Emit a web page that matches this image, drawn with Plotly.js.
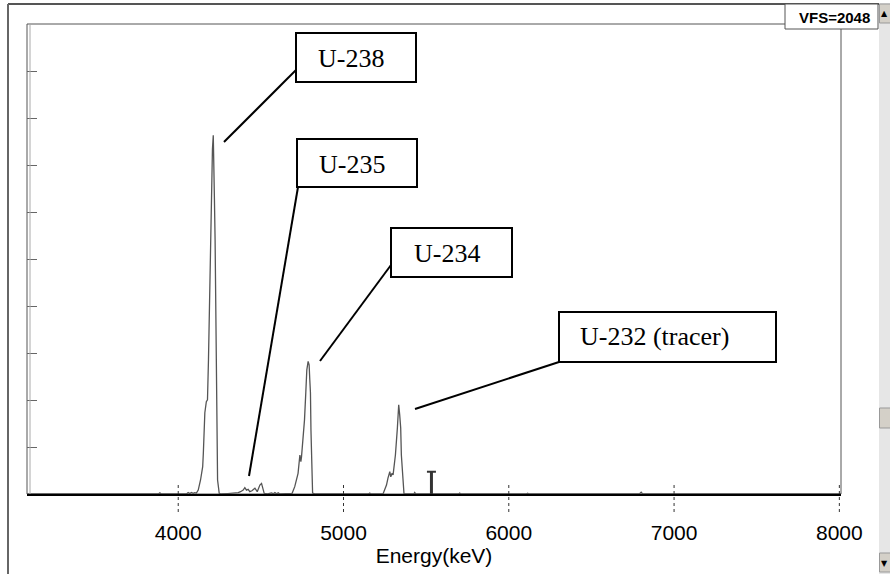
<!DOCTYPE html>
<html>
<head>
<meta charset="utf-8">
<script src="https://cdn.plot.ly/plotly-3.0.1.min.js"></script>
<style>
  html, body { margin: 0; padding: 0; background: #ffffff; }
  #chart { width: 890px; height: 574px; }
</style>
</head>
<body>
<div id="chart"></div>
<script>
// ---- Data ----
const energyKeV = [3085, 3880, 3889, 3897, 4050, 4060, 4070, 4080, 4090, 4100,
  4110, 4121, 4135, 4148, 4152, 4161, 4170, 4177, 4183, 4189,
  4193, 4202, 4207, 4212, 4216, 4219, 4223, 4226, 4230, 4233,
  4238, 4248, 4260, 4300, 4332, 4363, 4377, 4393, 4403, 4413,
  4423, 4433, 4446, 4464, 4478, 4494, 4504, 4514, 4520, 4540,
  4565, 4575, 4585, 4595, 4605, 4615, 4650, 4689, 4705, 4725,
  4736, 4742, 4746, 4756, 4764, 4772, 4778, 4786, 4792, 4796,
  4800, 4803, 4806, 4810, 4813, 4830, 5150, 5159, 5165, 5239,
  5245, 5260, 5269, 5280, 5286, 5294, 5300, 5306, 5314, 5326,
  5330, 5334, 5340, 5346, 5350, 5357, 5363, 5366, 5425, 5431,
  5437, 5695, 5703, 5710, 6106, 6114, 6122, 6790, 6801, 6810, 8010];
const counts = [0, 0, 5, 0, 0, 6, 2, 7, 3, 6,
  4, 17, 61, 119, 179, 354, 402, 410, 585, 847,
  1013, 1284, 1502, 1563, 1458, 1284, 1109, 847, 420, 150,
  61, 3, 0, 2, 3, 6, 10, 17, 28, 17,
  20, 10, 14, 25, 10, 39, 46, 25, 3, 0,
  5, 1, 6, 1, 5, 0, 0, 3, 32, 90,
  170, 141, 163, 236, 323, 445, 541, 578, 563, 498,
  441, 280, 192, 61, 4, 0, 0, 4, 0, 0,
  10, 39, 69, 97, 75, 90, 83, 120, 170, 288,
  345, 389, 345, 288, 170, 69, 10, 0, 0, 7,
  0, 0, 4, 0, 0, 3, 0, 0, 8, 0, 0];

const xTickVals = [4000, 5000, 6000, 7000, 8000];
const xTickText = ['4000', '5000', '6000', '7000', '8000'];
const yTickVals = [204.8, 409.6, 614.4, 819.2, 1024, 1228.8, 1433.6, 1638.4, 1843.2];
const verticalFullScale = 2048;
const xRange = [3085, 8010];

const peakLabels = ['U-238', 'U-235', 'U-234', 'U-232 (tracer)'];
const cursorEnergy = 5532;
const cursorHeight = 97;

// ---- Layout helpers (pixel -> paper) ----
const L = 27, R = 841, T = 24, B = 494;
const W = R - L, H = B - T;
const X = px => (px - L) / W;
const Y = py => (B - py) / H;

// label boxes: [left, top, right, bottom] px ; leader [x0,y0,x1,y1] px ; text anchor
const boxes = [
  {box: [296, 33, 416, 82],  lead: [296, 70, 224, 142],  tx: 316, ty: 58},
  {box: [297, 139, 417, 187], lead: [298, 187, 249, 476], tx: 317, ty: 164},
  {box: [391, 228, 512, 277], lead: [391, 265, 320, 361], tx: 412, ty: 253},
  {box: [559, 312, 776, 362], lead: [559, 362, 415, 409], tx: 578, ty: 336}
];

const shapes = [];
const annotations = [];

// outer window borders
shapes.push({type: 'line', xref: 'paper', yref: 'paper', x0: X(8), x1: X(879), y0: Y(4), y1: Y(4),
  line: {color: '#555', width: 2}});
shapes.push({type: 'line', xref: 'paper', yref: 'paper', x0: X(8), x1: X(8), y0: Y(4), y1: Y(575),
  line: {color: '#666', width: 2}});
// scrollbar
shapes.push({type: 'rect', xref: 'paper', yref: 'paper', x0: X(879), x1: X(891), y0: Y(575), y1: Y(3),
  fillcolor: '#e6e6e6', line: {width: 0}});
shapes.push({type: 'rect', xref: 'paper', yref: 'paper', x0: X(879.5), x1: X(890.5), y0: Y(23), y1: Y(4),
  fillcolor: '#d4d0c8', line: {color: '#999', width: 1}});
shapes.push({type: 'rect', xref: 'paper', yref: 'paper', x0: X(879.5), x1: X(890.5), y0: Y(428), y1: Y(408),
  fillcolor: '#d4d0c8', line: {color: '#999', width: 1}});
shapes.push({type: 'rect', xref: 'paper', yref: 'paper', x0: X(879.5), x1: X(890.5), y0: Y(572), y1: Y(553),
  fillcolor: '#d4d0c8', line: {color: '#999', width: 1}});

// plot frame
shapes.push({type: 'rect', xref: 'paper', yref: 'paper', x0: 0, x1: 1, y0: 0, y1: 1,
  line: {color: '#555', width: 1}, layer: 'below'});
shapes.push({type: 'line', xref: 'paper', yref: 'paper', x0: X(30), x1: X(30), y0: 0, y1: 1,
  line: {color: '#aaa', width: 1}});

// dashed x ticks crossing the baseline
xTickVals.forEach(v => {
  shapes.push({type: 'line', xref: 'x', yref: 'paper', x0: v, x1: v, y0: Y(512), y1: Y(482),
    line: {color: '#333', width: 1, dash: 'dot'}});
});

// cursor marker
shapes.push({type: 'line', xref: 'x', yref: 'y', x0: cursorEnergy, x1: cursorEnergy, y0: 0, y1: cursorHeight,
  line: {color: '#333', width: 3}});
shapes.push({type: 'line', xref: 'x', yref: 'y', xsizemode: 'pixel', xanchor: cursorEnergy,
  x0: -4.5, x1: 4.5, y0: cursorHeight, y1: cursorHeight, line: {color: '#333', width: 2}});

// VFS box
shapes.push({type: 'rect', xref: 'paper', yref: 'paper', x0: X(785), x1: X(878), y0: Y(29), y1: Y(4),
  fillcolor: '#ffffff', line: {color: '#555', width: 1}});
annotations.push({xref: 'paper', yref: 'paper', x: X(834), y: Y(17), text: 'VFS=2048', showarrow: false,
  xanchor: 'center', yanchor: 'middle', font: {family: 'Liberation Sans, Arial, sans-serif', size: 15, color: '#000', weight: 'bold'}});
annotations.push({xref: 'paper', yref: 'paper', x: X(885), y: Y(13), text: '▲', showarrow: false,
  xanchor: 'center', yanchor: 'middle', font: {family: 'DejaVu Sans', size: 8, color: '#000'}});
annotations.push({xref: 'paper', yref: 'paper', x: X(885), y: Y(563), text: '▼', showarrow: false,
  xanchor: 'center', yanchor: 'middle', font: {family: 'DejaVu Sans', size: 8, color: '#000'}});

// peak label boxes and leader lines
boxes.forEach((b, i) => {
  shapes.push({type: 'line', xref: 'paper', yref: 'paper', x0: X(b.lead[0]), y0: Y(b.lead[1]),
    x1: X(b.lead[2]), y1: Y(b.lead[3]), line: {color: '#000', width: 2}});
  shapes.push({type: 'rect', xref: 'paper', yref: 'paper', x0: X(b.box[0]), x1: X(b.box[2]),
    y0: Y(b.box[3]), y1: Y(b.box[1]), fillcolor: '#ffffff', line: {color: '#000', width: 2}});
  annotations.push({xref: 'paper', yref: 'paper', x: X(b.tx), y: Y(b.ty), text: peakLabels[i],
    showarrow: false, xanchor: 'left', yanchor: 'middle',
    font: {family: 'Liberation Serif, Times New Roman, serif', size: 26, color: '#000'}});
});

const trace = {
  type: 'scatter', mode: 'lines', x: energyKeV, y: counts,
  line: {color: '#555555', width: 1.3}, hoverinfo: 'x+y'
};

const layout = {
  width: 890, height: 574,
  margin: {l: L, r: 890 - R, t: T, b: 574 - B, pad: 0},
  paper_bgcolor: '#ffffff', plot_bgcolor: '#ffffff',
  showlegend: false,
  xaxis: {
    range: xRange, showgrid: false, zeroline: false,
    showline: true, linecolor: '#000', linewidth: 2,
    tickmode: 'array', tickvals: xTickVals, ticktext: xTickText,
    ticks: '', ticklabelstandoff: 19,
    tickfont: {family: 'Liberation Sans, Arial, sans-serif', size: 21, color: '#000'},
    title: {text: 'Energy(keV)', standoff: 5,
      font: {family: 'Liberation Sans, Arial, sans-serif', size: 21, color: '#000'}}
  },
  yaxis: {
    range: [0, verticalFullScale], showgrid: false, zeroline: false, showline: false,
    tickmode: 'array', tickvals: yTickVals, showticklabels: false,
    ticks: 'inside', ticklen: 10, tickwidth: 1, tickcolor: '#666'
  },
  shapes: shapes,
  annotations: annotations
};

Plotly.newPlot('chart', [trace], layout, {displayModeBar: false, staticPlot: true});
</script>
</body>
</html>
